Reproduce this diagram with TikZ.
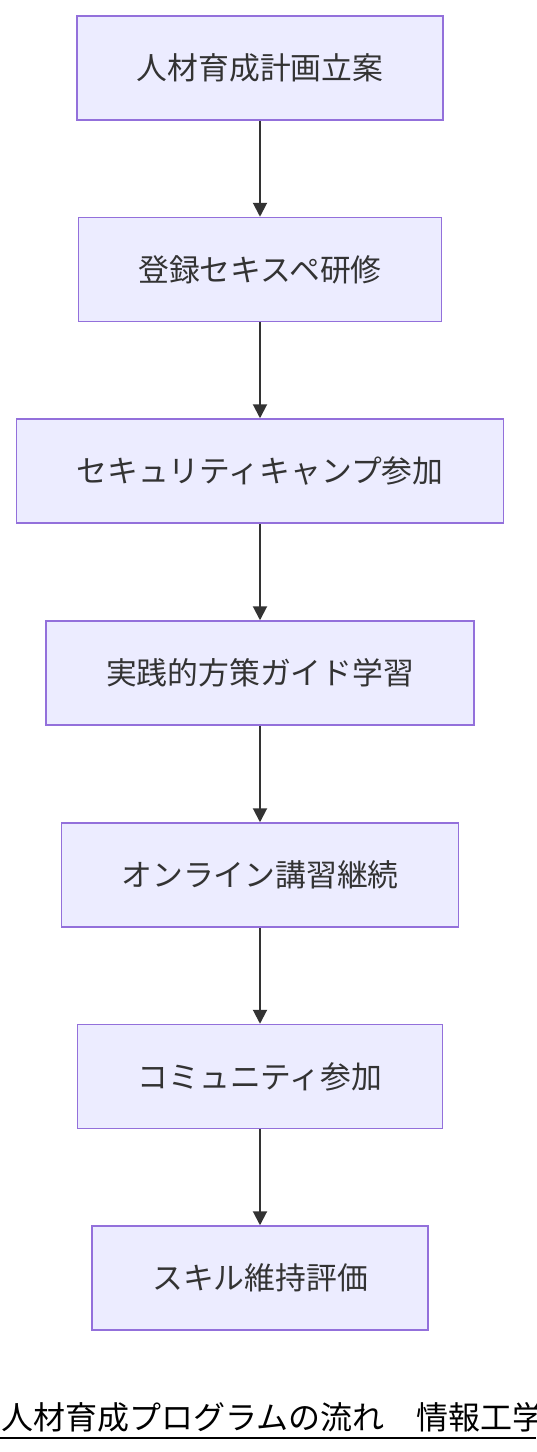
\documentclass[tikz,border=0pt]{standalone}
\usepackage{fontspec}
\usepackage{tikz}
\usetikzlibrary{arrows.meta}
\newfontfamily\jpfont{Noto Sans CJK JP}
\definecolor{boxfill}{HTML}{ECECFF}
\definecolor{boxline}{HTML}{9370DB}
\definecolor{ink}{HTML}{333333}

\begin{document}
\begin{tikzpicture}
		[x=1pt, y=-1pt, thick,
		box/.style={rectangle, draw=boxline, fill=boxfill, line width=1.5pt,
			minimum height=104pt, inner xsep=60pt, text=ink,
			font=\jpfont\fontsize{30.8}{36}\selectfont},
		flow/.style={draw=ink, line width=2pt, -{Triangle[length=14pt, width=14pt]}}]
		\useasboundingbox (0,0) rectangle (536,1452);
		%\fill[white] (0,0) rectangle (536,1452);
		\foreach \n/\y/\t in {1/68/人材育成計画立案, 2/269.5/登録セキスペ研修, 3/471/セキュリティキャンプ参加, 4/673/実践的方策ガイド学習, 5/875/オンライン講習継続, 6/1076.5/コミュニティ参加, 7/1278/スキル維持評価}
		\node [box](n\n) at (260,\y) {\t};
		
		\foreach \from/\to in {1/2, 2/3, 3/4, 4/5, 5/6, 6/7}
		\draw [flow] (n\from) -- (n\to);
		
		% title at the bottom, cut by the page edge
		\node [anchor=base west, inner sep=0pt, font=\jpfont\fontsize{32}{38}\selectfont](title) at (1,1429) {人材育成プログラムの流れ　情報工学};
		\draw [line width=2.5pt] (0,1438) -- (536,1438);
\end{tikzpicture}
\end{document}
